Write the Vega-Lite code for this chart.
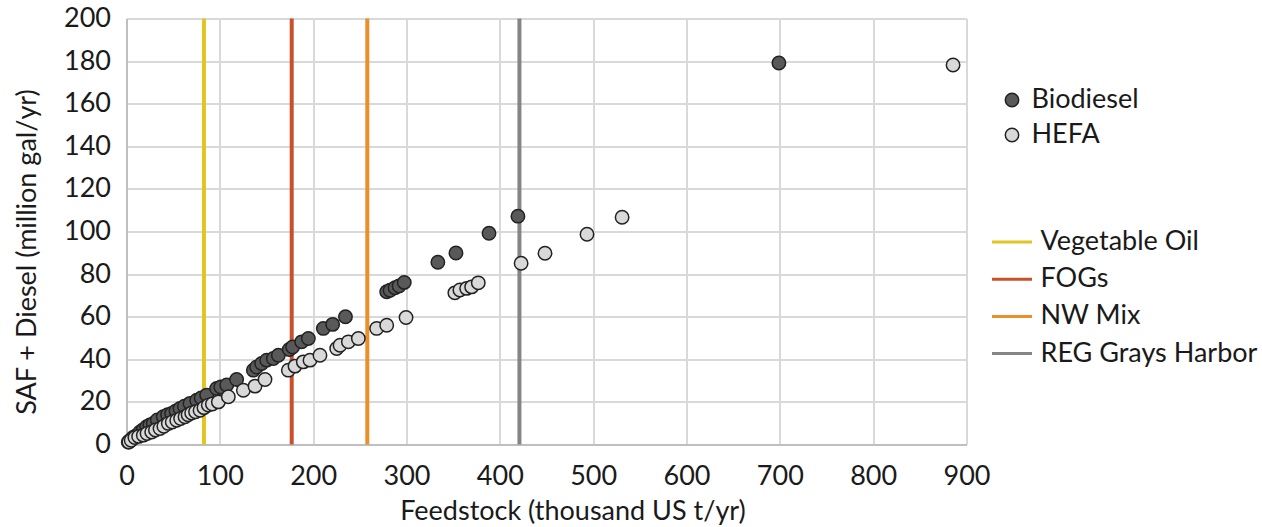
{
  "$schema": "https://vega.github.io/schema/vega-lite/v6.json",
  "width": 840,
  "height": 426,
  "autosize": "none",
  "padding": {"left": 126.5, "top": 18.5, "right": 295.5, "bottom": 82.5},
  "background": "white",
  "config": {
    "font": "Lato",
    "view": {"stroke": null},
    "axis": {"labelFont": "Lato", "titleFont": "Lato", "labelColor": "#1a1a1a", "titleColor": "#1a1a1a", "titleFontWeight": "normal", "gridColor": "#d9d9d9", "gridWidth": 2, "domainColor": "#bfbfbf", "domainWidth": 2, "ticks": false, "labelFlush": false},
    "legend": {"labelFont": "Lato", "labelColor": "#1a1a1a", "labelLimit": 0}
  },
  "datasets": {
    "lines": [
      {"facility": "Vegetable Oil", "feedstock": 83},
      {"facility": "FOGs", "feedstock": 177},
      {"facility": "NW Mix", "feedstock": 258},
      {"facility": "REG Grays Harbor", "feedstock": 421}
    ],
    "points": [
      {"process": "Biodiesel", "feedstock": 1.9, "fuel": 1.2},
      {"process": "Biodiesel", "feedstock": 4, "fuel": 2},
      {"process": "Biodiesel", "feedstock": 7, "fuel": 3.3},
      {"process": "Biodiesel", "feedstock": 10, "fuel": 4},
      {"process": "Biodiesel", "feedstock": 14.5, "fuel": 5.9},
      {"process": "Biodiesel", "feedstock": 18, "fuel": 7},
      {"process": "Biodiesel", "feedstock": 21.6, "fuel": 8.3},
      {"process": "Biodiesel", "feedstock": 25, "fuel": 9.2},
      {"process": "Biodiesel", "feedstock": 28.7, "fuel": 9.9},
      {"process": "Biodiesel", "feedstock": 33, "fuel": 11.5},
      {"process": "Biodiesel", "feedstock": 39.4, "fuel": 13},
      {"process": "Biodiesel", "feedstock": 44, "fuel": 14},
      {"process": "Biodiesel", "feedstock": 48.4, "fuel": 14.6},
      {"process": "Biodiesel", "feedstock": 53, "fuel": 15.8},
      {"process": "Biodiesel", "feedstock": 57.3, "fuel": 16.9},
      {"process": "Biodiesel", "feedstock": 62, "fuel": 18},
      {"process": "Biodiesel", "feedstock": 68, "fuel": 19.3},
      {"process": "Biodiesel", "feedstock": 75.2, "fuel": 20.8},
      {"process": "Biodiesel", "feedstock": 80, "fuel": 21.8},
      {"process": "Biodiesel", "feedstock": 85.9, "fuel": 23.2},
      {"process": "Biodiesel", "feedstock": 96.6, "fuel": 26.3},
      {"process": "Biodiesel", "feedstock": 101, "fuel": 27},
      {"process": "Biodiesel", "feedstock": 107.4, "fuel": 27.9},
      {"process": "Biodiesel", "feedstock": 118, "fuel": 30.5},
      {"process": "Biodiesel", "feedstock": 135.9, "fuel": 34.9},
      {"process": "Biodiesel", "feedstock": 139.5, "fuel": 36.4},
      {"process": "Biodiesel", "feedstock": 144.8, "fuel": 38},
      {"process": "Biodiesel", "feedstock": 150.2, "fuel": 39.6},
      {"process": "Biodiesel", "feedstock": 157.3, "fuel": 40.4},
      {"process": "Biodiesel", "feedstock": 162.7, "fuel": 41.9},
      {"process": "Biodiesel", "feedstock": 174.4, "fuel": 44.6},
      {"process": "Biodiesel", "feedstock": 178, "fuel": 45.8},
      {"process": "Biodiesel", "feedstock": 187.7, "fuel": 48.2},
      {"process": "Biodiesel", "feedstock": 194.8, "fuel": 49.8},
      {"process": "Biodiesel", "feedstock": 210.9, "fuel": 54.5},
      {"process": "Biodiesel", "feedstock": 220.9, "fuel": 56.4},
      {"process": "Biodiesel", "feedstock": 234.6, "fuel": 60},
      {"process": "Biodiesel", "feedstock": 278.8, "fuel": 71.7},
      {"process": "Biodiesel", "feedstock": 282.4, "fuel": 72.4},
      {"process": "Biodiesel", "feedstock": 287.7, "fuel": 73.6},
      {"process": "Biodiesel", "feedstock": 292, "fuel": 74.4},
      {"process": "Biodiesel", "feedstock": 297.6, "fuel": 76.1},
      {"process": "Biodiesel", "feedstock": 333.6, "fuel": 85.6},
      {"process": "Biodiesel", "feedstock": 353, "fuel": 89.9},
      {"process": "Biodiesel", "feedstock": 388.4, "fuel": 99.2},
      {"process": "Biodiesel", "feedstock": 419.4, "fuel": 107.2},
      {"process": "Biodiesel", "feedstock": 699, "fuel": 179.1},
      {"process": "HEFA", "feedstock": 2.5, "fuel": 1.2},
      {"process": "HEFA", "feedstock": 5, "fuel": 2},
      {"process": "HEFA", "feedstock": 9, "fuel": 3.3},
      {"process": "HEFA", "feedstock": 13, "fuel": 3.8},
      {"process": "HEFA", "feedstock": 18, "fuel": 4.4},
      {"process": "HEFA", "feedstock": 22, "fuel": 5.2},
      {"process": "HEFA", "feedstock": 27, "fuel": 5.9},
      {"process": "HEFA", "feedstock": 31, "fuel": 6.8},
      {"process": "HEFA", "feedstock": 35.9, "fuel": 7.5},
      {"process": "HEFA", "feedstock": 40, "fuel": 8.6},
      {"process": "HEFA", "feedstock": 44.8, "fuel": 9.9},
      {"process": "HEFA", "feedstock": 49, "fuel": 10.6},
      {"process": "HEFA", "feedstock": 53.8, "fuel": 11.4},
      {"process": "HEFA", "feedstock": 58, "fuel": 12.2},
      {"process": "HEFA", "feedstock": 62.7, "fuel": 13},
      {"process": "HEFA", "feedstock": 66, "fuel": 14},
      {"process": "HEFA", "feedstock": 69.8, "fuel": 14.8},
      {"process": "HEFA", "feedstock": 74, "fuel": 15.4},
      {"process": "HEFA", "feedstock": 78.8, "fuel": 16.1},
      {"process": "HEFA", "feedstock": 83, "fuel": 17.3},
      {"process": "HEFA", "feedstock": 87.6, "fuel": 18.5},
      {"process": "HEFA", "feedstock": 92, "fuel": 19},
      {"process": "HEFA", "feedstock": 98.4, "fuel": 20},
      {"process": "HEFA", "feedstock": 109.1, "fuel": 22.4},
      {"process": "HEFA", "feedstock": 125.2, "fuel": 25.5},
      {"process": "HEFA", "feedstock": 137.7, "fuel": 27.4},
      {"process": "HEFA", "feedstock": 148.4, "fuel": 30.5},
      {"process": "HEFA", "feedstock": 173.4, "fuel": 34.9},
      {"process": "HEFA", "feedstock": 180.5, "fuel": 36.8},
      {"process": "HEFA", "feedstock": 189.4, "fuel": 38.8},
      {"process": "HEFA", "feedstock": 196.6, "fuel": 39.6},
      {"process": "HEFA", "feedstock": 207.3, "fuel": 41.9},
      {"process": "HEFA", "feedstock": 225.2, "fuel": 45.1},
      {"process": "HEFA", "feedstock": 228.8, "fuel": 46.6},
      {"process": "HEFA", "feedstock": 237.7, "fuel": 48.2},
      {"process": "HEFA", "feedstock": 248.4, "fuel": 49.8},
      {"process": "HEFA", "feedstock": 268, "fuel": 54.5},
      {"process": "HEFA", "feedstock": 278.8, "fuel": 56},
      {"process": "HEFA", "feedstock": 299.5, "fuel": 59.6},
      {"process": "HEFA", "feedstock": 351.8, "fuel": 71.2},
      {"process": "HEFA", "feedstock": 357.2, "fuel": 72.5},
      {"process": "HEFA", "feedstock": 364.4, "fuel": 73.3},
      {"process": "HEFA", "feedstock": 369.8, "fuel": 74},
      {"process": "HEFA", "feedstock": 376.9, "fuel": 75.9},
      {"process": "HEFA", "feedstock": 422.8, "fuel": 85.1},
      {"process": "HEFA", "feedstock": 448.4, "fuel": 89.8},
      {"process": "HEFA", "feedstock": 493.4, "fuel": 98.7},
      {"process": "HEFA", "feedstock": 531, "fuel": 106.7},
      {"process": "HEFA", "feedstock": 885.6, "fuel": 178.2}
    ]
  },
  "layer": [
    {
      "data": {"name": "lines"},
      "mark": {"type": "rule", "strokeWidth": 4},
      "encoding": {
        "x": {"field": "feedstock", "type": "quantitative", "scale": {"domain": [0, 900], "nice": false},
          "axis": {"title": "Feedstock (thousand US t/yr)", "values": [0,100,200,300,400,500,600,700,800,900], "labelFontSize": 27, "labelPadding": 19, "titleFontSize": 27, "titleX": 446, "titleY": 75, "titleBaseline": "alphabetic", "titleAlign": "center", "titleAnchor": null}},
        "stroke": {"field": "facility", "type": "nominal",
          "scale": {"domain": ["Vegetable Oil", "FOGs", "NW Mix", "REG Grays Harbor"], "range": ["#E3C521", "#C8502B", "#EB8F2A", "#858585"]},
          "legend": {"title": null, "orient": "none", "legendX": 864, "legendY": 202, "symbolType": "stroke", "symbolSize": 1600, "symbolStrokeWidth": 3, "labelFontSize": 27, "labelOffset": 7, "rowPadding": 2.2, "padding": 0}}
      }
    },
    {
      "data": {"name": "points"},
      "mark": {"type": "point", "filled": true, "shape": "circle", "size": 180, "stroke": "#222222", "strokeWidth": 1.5, "opacity": 1},
      "encoding": {
        "x": {"field": "feedstock", "type": "quantitative"},
        "y": {"field": "fuel", "type": "quantitative", "scale": {"domain": [0, 200], "nice": false},
          "axis": {"title": "SAF + Diesel (million gal/yr)", "values": [0,20,40,60,80,100,120,140,160,180,200], "labelFontSize": 27, "labelPadding": 16, "titleFontSize": 27, "titleAngle": -90, "titleX": -99, "titleY": 233, "titleBaseline": "middle", "titleAlign": "center", "titleAnchor": null}},
        "fill": {"field": "process", "type": "nominal",
          "scale": {"domain": ["Biodiesel", "HEFA"], "range": ["#595959", "#d9d9d9"]},
          "legend": {"title": null, "orient": "none", "legendX": 872, "legendY": 68, "symbolType": "circle", "symbolSize": 180, "symbolStrokeColor": "#222222", "symbolStrokeWidth": 1.5, "labelFontSize": 27, "labelOffset": 6, "rowPadding": 7, "padding": 0}}
      }
    }
  ]
}
